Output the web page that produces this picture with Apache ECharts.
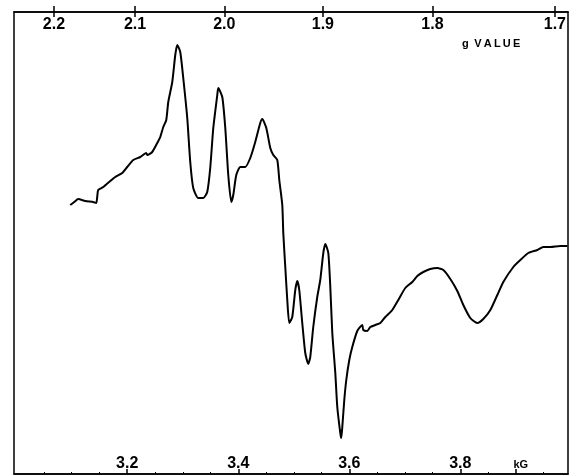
<!DOCTYPE html>
<html>
<head>
<meta charset="utf-8">
<script src="https://cdn.jsdelivr.net/npm/echarts@6/dist/echarts.min.js"></script>
<style>html,body{margin:0;padding:0;background:#fff}#c{width:576px;height:476px}</style>
</head>
<body>
<div id="c"></div>
<script>
// Magnetic field (kG) of each traced point
const fieldKG = [3.0973,3.1045,3.1117,3.1243,3.1387,3.1441,3.1459,3.1477,3.1568,3.1694,3.1784,3.1910,3.2000,3.2108,3.2234,3.2342,3.2360,3.2450,3.2541,3.2595,3.2649,3.2703,3.2739,3.2811,3.2865,3.2901,3.2955,3.3009,3.3081,3.3135,3.3189,3.3279,3.3369,3.3441,3.3495,3.3550,3.3622,3.3640,3.3712,3.3766,3.3820,3.3874,3.3910,3.3964,3.4036,3.4126,3.4216,3.4306,3.4396,3.4432,3.4505,3.4577,3.4631,3.4703,3.4739,3.4793,3.4811,3.4847,3.4883,3.4919,3.4973,3.5027,3.5063,3.5099,3.5153,3.5207,3.5261,3.5297,3.5351,3.5423,3.5477,3.5532,3.5568,3.5622,3.5658,3.5694,3.5748,3.5784,3.5838,3.5856,3.5874,3.5910,3.5946,3.6000,3.6054,3.6144,3.6234,3.6252,3.6324,3.6378,3.6468,3.6559,3.6649,3.6775,3.6883,3.7009,3.7135,3.7225,3.7333,3.7459,3.7586,3.7694,3.7820,3.7946,3.8054,3.8180,3.8306,3.8414,3.8541,3.8667,3.8775,3.8955,3.9081,3.9225,3.9387,3.9495,3.9622,3.9802,3.9928];
// EPR derivative signal (arbitrary units)
const signal = [269,272,275,273,272,271,277,284,287,293,297,301,307,314,317,321,319,322,331,337,347,354,372,392,419,429,422,396,356,312,286,276,276,282,306,346,379,386,377,346,299,272,279,299,307,307,316,332,351,355,346,326,319,314,294,269,241,207,174,151,157,184,193,184,151,121,110,117,147,177,194,221,230,221,187,141,101,67,41,36,47,74,94,114,127,143,149,144,143,147,149,151,157,164,174,186,192,198,202,205,206,204,195,183,169,156,151,155,164,179,192,207,214,221,224,227,227,228,228];
// Bottom axis labels (kG) and unit label
const fieldTicks = [3.2, 3.4, 3.6, 3.8];
const unitTick = 3.9;
const minorTicks = [3.05,3.1,3.15,3.25,3.3,3.35,3.45,3.5,3.55,3.65,3.7,3.75,3.85,3.95];
// Top axis g-value labels
const gTicks = [2.2, 2.1, 2.0, 1.9, 1.8, 1.7];
const microwaveGHz = 9.447;

const C = 71.4477 * microwaveGHz / 100; // kG * g
const gPositions = gTicks.map(g => C / g);
const xMin = 2.996, xMax = 3.994;
const font = '"Liberation Sans", Arial, sans-serif';

const chart = echarts.init(document.getElementById('c'));
chart.setOption({
  animation: false,
  backgroundColor: '#fff',
  grid: {left: 14, right: 8, top: 12, bottom: 2, show: true, borderColor: '#000', borderWidth: 1.5},
  xAxis: [
    {type: 'value', position: 'bottom', min: xMin, max: xMax,
     axisLine: {show: true, lineStyle: {color: '#000', width: 1.5}},
     axisTick: {show: true, inside: true, length: 5, customValues: fieldTicks.concat([unitTick]), lineStyle: {color: '#000', width: 1.5}},
     axisLabel: {show: true, inside: true, margin: 2, customValues: fieldTicks.concat([unitTick]),
       color: '#000', fontFamily: font, fontWeight: 'bold', fontSize: 16,
       formatter: v => Math.abs(v - unitTick) < 1e-6 ? '{k|kG}' : v.toFixed(1),
       rich: {k: {fontSize: 11, fontWeight: 'bold', fontFamily: font, color: '#000', padding: [0, 0, 2, 10]}}},
     splitLine: {show: false}},
    {type: 'value', position: 'bottom', offset: 0, min: xMin, max: xMax,
     axisLine: {show: false},
     axisTick: {show: true, inside: true, length: 2, customValues: minorTicks, lineStyle: {color: '#000', width: 1}},
     axisLabel: {show: false}, splitLine: {show: false}},
    {type: 'value', position: 'top', offset: 0, min: xMin, max: xMax,
     axisLine: {show: true, lineStyle: {color: '#000', width: 1.5}},
     axisTick: {show: true, inside: false, length: 6, customValues: gPositions, lineStyle: {color: '#000', width: 1.5}},
     axisLabel: {show: true, inside: true, margin: 5, customValues: gPositions,
       color: '#000', fontFamily: font, fontWeight: 'bold', fontSize: 16,
       formatter: v => (C / v).toFixed(1)},
     splitLine: {show: false}},
    {type: 'value', position: 'top', offset: 0, min: xMin, max: xMax,
     axisLine: {show: false},
     axisTick: {show: true, inside: true, length: 5, customValues: gPositions, lineStyle: {color: '#000', width: 1.5}},
     axisLabel: {show: false}, splitLine: {show: false}}
  ],
  yAxis: {type: 'value', min: 0, max: 462, show: false},
  graphic: [{type: 'text', left: 462, top: 38,
    style: {text: 'g\u2002V\u2009A\u2009L\u2009U\u2009E', fill: '#000', font: 'bold 11px ' + font}}],
  series: [{type: 'line', xAxisIndex: 0, showSymbol: false, smooth: 0.2,
    lineStyle: {color: '#000', width: 2},
    data: fieldKG.map((b, i) => [b, signal[i]])}]
});
</script>
</body>
</html>
